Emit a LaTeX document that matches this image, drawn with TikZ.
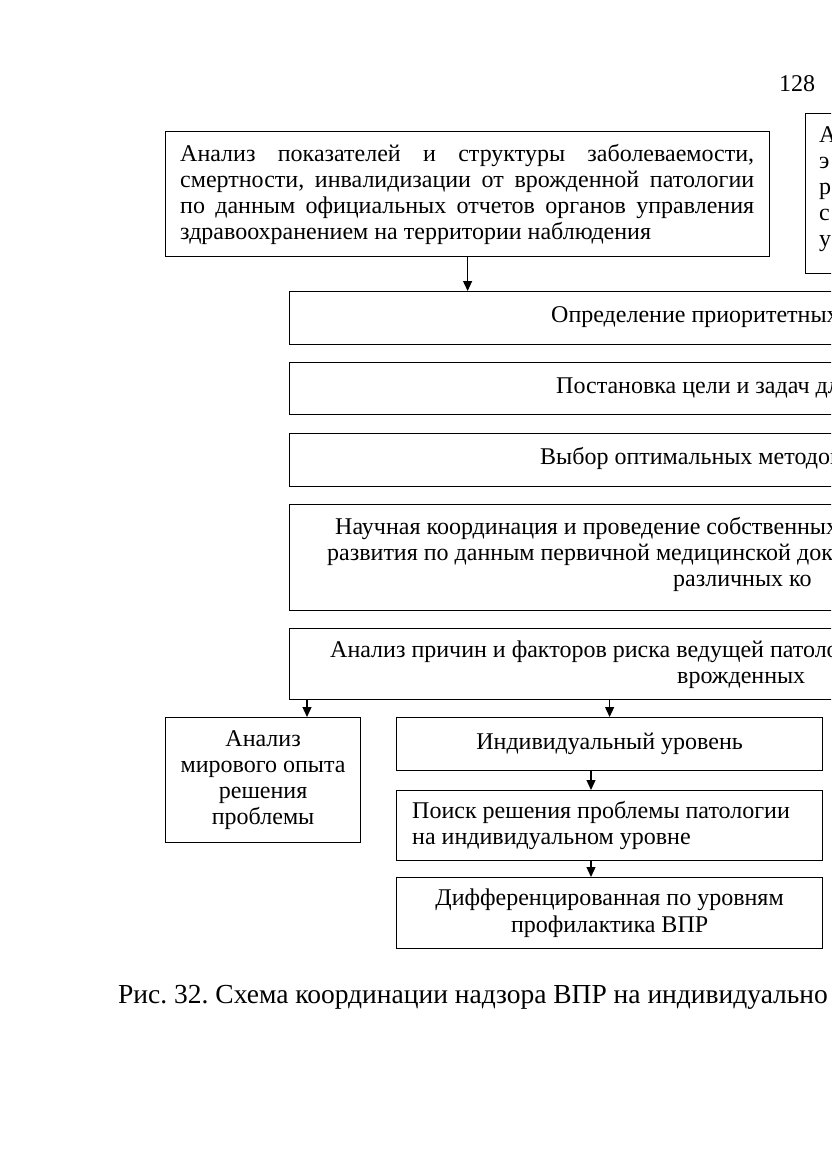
\documentclass[tikz,border=0pt]{standalone}
\usepackage{fontspec}
\setmainfont{Liberation Serif}
\usetikzlibrary{arrows.meta}
\newcommand\fs{\fontsize{24}{26.3}\selectfont}
\newcommand\capfs{\fontsize{27.5}{30}\selectfont}
\frenchspacing
\tikzset{
  box/.style={draw, line width=1.2pt, rectangle, inner sep=0pt, anchor=north west},
  arr/.style={-{Triangle[length=10pt,width=9pt]}, line width=1.2pt},
  txt/.style={inner sep=0pt, font=\fs, anchor=base west},
  ctxt/.style={inner sep=0pt, font=\fs, align=center},
}
\begin{document}
\begin{tikzpicture}[x=1pt,y=-1pt]
\useasboundingbox (0,0) rectangle (831,1174);
\clip (0,0) rectangle (831,1174);
% page number
\node[txt] (pg) at (779,92) {128};
% top left box
\node[box, minimum width=604pt, minimum height=125pt] (a) at (165,131) {};
\node[txt] (a1) at (180,162) {\makebox[574pt][s]{Анализ показателей и структуры заболеваемости,}};
\node[txt] (a2) at (180,188) {\makebox[574pt][s]{смертности, инвалидизации от врожденной патологии}};
\node[txt] (a3) at (180,214) {\makebox[574pt][s]{по данным официальных отчетов органов управления}};
\node[txt] (a4) at (180,240) {здравоохранением на территории наблюдения};
% top right partial box
\node[box, minimum width=200pt, minimum height=160pt] (r) at (805,113) {};
\node[txt] (r1) at (819,143) {А};
\node[txt] (r2) at (819,169) {э};
\node[txt] (r3) at (819,195) {р};
\node[txt] (r4) at (819,221) {с};
\node[txt] (r5) at (819,247) {у};
% wide boxes
\node[box, minimum width=700pt, minimum height=53pt] (b) at (289,291) {};
\node[txt] (bt) at (551,322) {Определение приоритетных};
\node[box, minimum width=700pt, minimum height=52pt] (c) at (289,362) {};
\node[txt] (ct) at (556,393) {Постановка цели и задач для};
\node[box, minimum width=700pt, minimum height=53pt] (d) at (289,433) {};
\node[txt] (dt) at (540,464) {Выбор оптимальных методов};
\node[box, minimum width=700pt, minimum height=106pt] (e) at (289,504) {};
\node[txt] (e1) at (335,534) {Научная координация и проведение собственных};
\node[txt] (e2) at (327,560) {развития по данным первичной медицинской документации};
\node[txt] (e3) at (673,586) {различных ко};
\node[box, minimum width=700pt, minimum height=71pt] (f) at (289,628) {};
\node[txt] (f1) at (330,657) {Анализ причин и факторов риска ведущей патологии};
\node[txt] (f2) at (677,683) {врожденных};
% lower boxes
\node[box, minimum width=195pt, minimum height=125pt] (g) at (165,717) {};
\node[ctxt] (gt) at (g.center) {Анализ\\мирового опыта\\решения\\проблемы};
\node[box, minimum width=426pt, minimum height=53pt] (h) at (396,717) {};
\node[ctxt] (ht) at (h.center) {Индивидуальный уровень};
\node[box, minimum width=426pt, minimum height=70pt] (i) at (396,790) {};
\node[inner sep=0pt, font=\fs, align=left, anchor=west] (it) at ([xshift=16pt]i.west) {Поиск решения проблемы патологии\\на индивидуальном уровне};
\node[box, minimum width=426pt, minimum height=71pt] (j) at (396,877) {};
\node[ctxt] (jt) at (j.center) {Дифференцированная по уровням\\профилактика ВПР};
% caption
\node[inner sep=0pt, font=\capfs, anchor=base west] (cap) at (118,1003) {Рис. 32. Схема координации надзора ВПР на индивидуально};
% arrows
\draw[arr] (a.south) -- (a.south |- b.north);
\coordinate (fg) at (307,699);
\draw[arr] (fg) -- (fg |- g.north);
\draw[arr] (h.north |- f.south) -- (h.north);
\coordinate (hi) at (591,770);
\draw[arr] (hi) -- (hi |- i.north);
\coordinate (ij) at (591,860);
\draw[arr] (ij) -- (ij |- j.north);
\end{tikzpicture}
\end{document}
